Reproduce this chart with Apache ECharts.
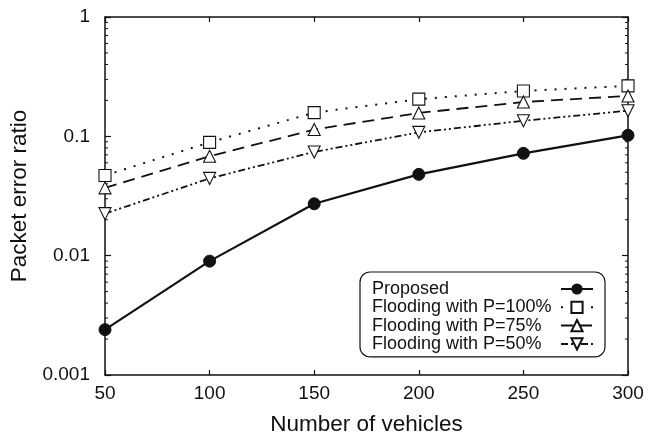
<!DOCTYPE html>
<html>
<head>
<meta charset="utf-8">
<script src="https://cdn.jsdelivr.net/npm/echarts@6/dist/echarts.min.js"></script>
<style>
  html, body { margin: 0; padding: 0; background: #fff; }
  #main { width: 660px; height: 441px; }
</style>
</head>
<body>
<div id="main"></div>
<script>
// data
var vehicles = [50, 100, 150, 200, 250, 300];
var proposed = [0.0024, 0.009, 0.0272, 0.048, 0.072, 0.102];
var flood100 = [0.047, 0.089, 0.158, 0.205, 0.24, 0.265];
var flood75  = [0.037, 0.068, 0.114, 0.157, 0.194, 0.218];
var flood50  = [0.0225, 0.0444, 0.074, 0.108, 0.135, 0.164];
var yTickLabels = ['0.001', '0.01', '0.1', '1'];
var minorMult = [2, 3, 4, 5, 6, 7, 8, 9];
var decades = [0.001, 0.01, 0.1];

function pairs(arr) {
    var out = [];
    for (var i = 0; i < vehicles.length; i++) out.push([vehicles[i], arr[i]]);
    return out;
}

var minorTicks = [];
for (var d = 0; d < decades.length; d++) {
    for (var m = 0; m < minorMult.length; m++) {
        minorTicks.push([50, +(decades[d] * minorMult[m]).toPrecision(3)]);
    }
}

var font = 'Liberation Sans, Arial, Helvetica, sans-serif';
var ink = '#111';

var option = {
    animation: false,
    backgroundColor: '#fff',
    textStyle: { fontFamily: font, color: ink },
    grid: { left: 105, right: 32, top: 17, bottom: 61, containLabel: false },
    legend: {
        orient: 'vertical',
        left: 360,
        top: 272,
        align: 'right',
        itemWidth: 32,
        itemHeight: 14,
        itemGap: 0.3,
        padding: [8, 11, 4, 12],
        borderColor: ink,
        borderWidth: 1.2,
        borderRadius: 10,
        backgroundColor: '#fff',
        formatter: '{t|{name}}',
        textStyle: {
            color: ink, fontFamily: font,
            rich: { t: { fontSize: 18, lineHeight: 18, width: 184, align: 'left', color: ink, fontFamily: font } }
        },
        data: ['Proposed', 'Flooding with P=100%', 'Flooding with P=75%', 'Flooding with P=50%']
    },
    xAxis: [{
        type: 'value',
        min: 50, max: 300, interval: 50,
        name: 'Number of vehicles',
        nameLocation: 'middle',
        nameGap: 38,
        nameTextStyle: { fontSize: 22.5, color: ink, fontFamily: font },
        axisLine: { lineStyle: { color: ink, width: 1.5 } },
        axisTick: { inside: true, length: 5, lineStyle: { color: ink, width: 1.2 } },
        axisLabel: { fontSize: 19, color: ink, margin: 9, fontFamily: font },
        splitLine: { show: false }
    }, {
        type: 'value',
        position: 'top',
        min: 50, max: 300, interval: 50,
        axisLine: { lineStyle: { color: ink, width: 1.5 } },
        axisTick: { inside: true, length: 5, lineStyle: { color: ink, width: 1.2 } },
        axisLabel: { show: false },
        splitLine: { show: false }
    }],
    yAxis: [{
        type: 'log',
        logBase: 10,
        min: 0.001, max: 1,
        name: 'Packet error ratio',
        nameLocation: 'middle',
        nameGap: 67,
        nameRotate: 90,
        nameTextStyle: { fontSize: 22.5, color: ink, fontFamily: font },
        axisLine: { show: true, lineStyle: { color: ink, width: 1.5 } },
        axisTick: { inside: true, length: 6, lineStyle: { color: ink, width: 1.2 } },
        axisLabel: {
            fontSize: 19, color: ink, margin: 15, fontFamily: font,
            formatter: function (v) {
                var i = Math.round(Math.log10(v)) + 3;
                return yTickLabels[i] !== undefined ? yTickLabels[i] : '';
            }
        },
        splitLine: { show: false }
    }, {
        type: 'log',
        logBase: 10,
        min: 0.001, max: 1,
        position: 'right',
        axisLine: { show: true, lineStyle: { color: ink, width: 1.5 } },
        axisTick: { inside: true, length: 6, lineStyle: { color: ink, width: 1.2 } },
        axisLabel: { show: false },
        splitLine: { show: false }
    }],
    series: [
        {
            name: 'minor',
            type: 'custom',
            silent: true,
            clip: false,
            z: 1,
            data: minorTicks,
            renderItem: function (params, api) {
                var y = api.value(1);
                var l = api.coord([50, y]);
                var r = api.coord([300, y]);
                var st = { stroke: ink, lineWidth: 1 };
                return {
                    type: 'group',
                    children: [
                        { type: 'line', shape: { x1: l[0], y1: l[1], x2: l[0] + 3, y2: l[1] }, style: st },
                        { type: 'line', shape: { x1: r[0], y1: r[1], x2: r[0] - 3, y2: r[1] }, style: st }
                    ]
                };
            }
        },
        {
            name: 'Proposed',
            type: 'line',
            data: pairs(proposed),
            symbol: 'circle',
            symbolSize: 12,
            z: 5,
            lineStyle: { color: ink, width: 2.2, type: 'solid' },
            itemStyle: { color: ink, borderColor: ink }
        },
        {
            name: 'Flooding with P=100%',
            type: 'line',
            data: pairs(flood100),
            symbol: 'rect',
            symbolSize: 12,
            z: 4,
            lineStyle: { color: ink, width: 2, type: [2, 8] },
            itemStyle: { color: '#fff', borderColor: ink, borderWidth: 1.1 }
        },
        {
            name: 'Flooding with P=75%',
            type: 'line',
            data: pairs(flood75),
            symbol: 'triangle',
            symbolSize: 12,
            z: 4,
            lineStyle: { color: ink, width: 1.8, type: [12, 7] },
            itemStyle: { color: '#fff', borderColor: ink, borderWidth: 1.1 }
        },
        {
            name: 'Flooding with P=50%',
            type: 'line',
            data: pairs(flood50),
            symbol: 'triangle',
            symbolRotate: 180,
            symbolSize: 12,
            z: 4,
            lineStyle: { color: ink, width: 1.8, type: [7, 3, 2, 3, 2, 3] },
            itemStyle: { color: '#fff', borderColor: ink, borderWidth: 1.1 }
        }
    ]
};

var chart = echarts.init(document.getElementById('main'));
chart.setOption(option);
</script>
</body>
</html>
